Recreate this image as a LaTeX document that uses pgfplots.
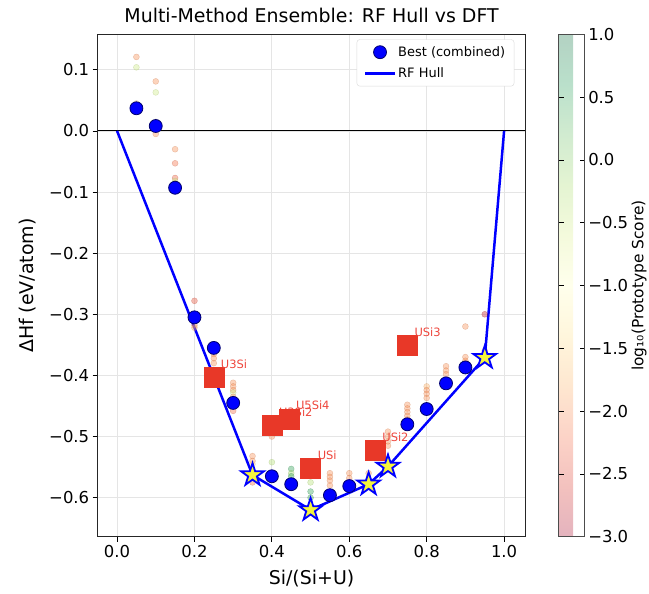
\documentclass[border=0pt]{standalone}
\usepackage{pgfplots}
\pgfplotsset{compat=1.18}
\usepackage{fontspec}
\setmainfont{DejaVu Sans}

\definecolor{dftred}{RGB}{232,56,40}
\definecolor{dftlabel}{RGB}{238,70,60}
\definecolor{staryellow}{RGB}{245,245,60}
\definecolor{bestedge}{RGB}{0,0,110}

% filled five-point star (matplotlib '*')
\pgfdeclareplotmark{fstar}{%
  \pgfpathmoveto{\pgfpointpolar{90}{\pgfplotmarksize}}%
  \pgfpathlineto{\pgfpointpolar{126}{0.382\pgfplotmarksize}}%
  \pgfpathlineto{\pgfpointpolar{162}{\pgfplotmarksize}}%
  \pgfpathlineto{\pgfpointpolar{198}{0.382\pgfplotmarksize}}%
  \pgfpathlineto{\pgfpointpolar{234}{\pgfplotmarksize}}%
  \pgfpathlineto{\pgfpointpolar{270}{0.382\pgfplotmarksize}}%
  \pgfpathlineto{\pgfpointpolar{306}{\pgfplotmarksize}}%
  \pgfpathlineto{\pgfpointpolar{342}{0.382\pgfplotmarksize}}%
  \pgfpathlineto{\pgfpointpolar{18}{\pgfplotmarksize}}%
  \pgfpathlineto{\pgfpointpolar{54}{0.382\pgfplotmarksize}}%
  \pgfpathclose
  \pgfusepathqfillstroke
}

\pgfplotsset{
  colormap={rdylgnpale}{rgb255=(228,179,190) rgb255=(243,193,190) rgb255=(252,211,199)
    rgb255=(254,231,208) rgb255=(255,246,220) rgb255=(255,255,236) rgb255=(244,250,220)
    rgb255=(228,244,210) rgb255=(209,235,208) rgb255=(186,224,203) rgb255=(179,210,195)},
  colormap={rdylgn}{rgb255=(165,0,38) rgb255=(215,48,39) rgb255=(244,109,67)
    rgb255=(253,174,97) rgb255=(254,224,139) rgb255=(255,255,191) rgb255=(217,239,139)
    rgb255=(166,217,106) rgb255=(102,189,99) rgb255=(26,152,80) rgb255=(0,104,55)},
}

% x, dHf, log10(prototype score)
\pgfplotstableread{
x y s
0.05 0.121 -2.0
0.05 0.104 -0.5
0.05 0.045 -1.5
0.10 0.081 -2.0
0.10 0.063 -0.5
0.10 0.015 -1.2
0.10 -0.005 -2.0
0.15 -0.030 -2.0
0.15 -0.053 -2.2
0.15 -0.077 -2.3
0.15 -0.082 -0.5
0.15 -0.086 -0.3
0.20 -0.278 -2.4
0.20 -0.318 -2.0
0.20 -0.322 -1.8
0.25 -0.365 -2.0
0.25 -0.372 -2.0
0.25 -0.380 -2.0
0.30 -0.412 -2.0
0.30 -0.418 -2.0
0.30 -0.424 -2.0
0.30 -0.428 -0.5
0.30 -0.435 -2.0
0.30 -0.458 -2.2
0.35 -0.532 -2.0
0.35 -0.540 -2.0
0.35 -0.545 -1.5
0.35 -0.575 -2.2
0.40 -0.500 -2.0
0.40 -0.542 -0.3
0.45 -0.553 0.5
0.45 -0.560 -0.2
0.45 -0.565 0.5
0.50 -0.575 -0.3
0.50 -0.590 0.5
0.50 -0.600 0.5
0.55 -0.560 -2.0
0.55 -0.566 -2.0
0.55 -0.572 -2.0
0.55 -0.580 -2.0
0.60 -0.560 -2.0
0.60 -0.568 -2.0
0.65 -0.560 -2.0
0.70 -0.492 -2.0
0.70 -0.500 -2.0
0.70 -0.508 -2.0
0.70 -0.515 -2.0
0.75 -0.448 -2.0
0.75 -0.454 -2.0
0.75 -0.460 -2.0
0.75 -0.466 -2.0
0.75 -0.472 -2.0
0.80 -0.418 -1.8
0.80 -0.424 -2.0
0.80 -0.430 -2.0
0.80 -0.437 -2.0
0.85 -0.385 -2.0
0.85 -0.392 -2.0
0.85 -0.398 -2.0
0.90 -0.320 -2.0
0.90 -0.370 -2.0
0.90 -0.376 -2.0
0.90 -0.380 -2.0
0.95 -0.300 -2.8
0.95 -0.360 -2.0
}\candidates

\begin{document}
\begin{tikzpicture}[trim left=-98pt, trim right=553pt]
\begin{axis}[
    scale only axis,
    width=429pt, height=504pt,
    xmin=-0.05, xmax=1.055,
    ymin=-0.664, ymax=0.158,
    xtick={0,0.2,0.4,0.6,0.8,1},
    xticklabels={0.0,0.2,0.4,0.6,0.8,1.0},
    ytick={-0.6,-0.5,-0.4,-0.3,-0.2,-0.1,0,0.1},
    yticklabels={−0.6,−0.5,−0.4,−0.3,−0.2,−0.1,0.0,0.1},
    xtick pos=bottom, ytick pos=left,
    tick align=outside,
    major tick length=5pt,
    tick style={black, line width=0.8pt},
    tick label style={font=\fontsize{16.5}{19}\selectfont},
    axis line style={black!85, line width=0.9pt},
    grid=major,
    grid style={gray!20, line width=0.8pt},
    title={Multi-Method Ensemble: RF Hull vs DFT},
    title style={font=\fontsize{19}{22}\selectfont, anchor=base, yshift=6pt, inner ysep=8pt},
    xlabel={Si/(Si+U)},
    xlabel shift=3pt,
    xlabel style={inner ysep=6pt},
    ylabel={ΔHf (eV/atom)},
    ylabel shift=6pt,
    label style={font=\fontsize{19}{22}\selectfont},
    colormap name=rdylgnpale,
    point meta min=-3, point meta max=1,
    colorbar,
    colorbar style={
        at={(parent axis.north east)}, anchor=north west, xshift=25pt,
        width=26pt,
        ytick={-3,-2.5,-2,-1.5,-1,-0.5,0,0.5,1},
        yticklabels={−3.0,−2.5,−2.0,−1.5,−1.0,−0.5,0.0,0.5,1.0},
        yticklabel style={font=\fontsize{16.5}{19}\selectfont},
        major tick length=5pt,
        tick style={black, line width=0.8pt},
        axis line style={black!70, line width=0.8pt},
        ylabel={log₁₀(Prototype Score)},
        ylabel style={font=\fontsize{15.5}{18}\selectfont, inner sep=0pt},
    },
    legend style={
        at={(0.974,0.990)}, anchor=north east,
        draw=black!15, rounded corners=3pt, fill=white,
        font=\fontsize{13}{15}\selectfont,
        row sep=6pt, inner xsep=7pt, inner ysep=5pt,
    },
    legend cell align=left,
    legend image code/.code={%
        \draw[mark repeat=2, mark phase=2] plot coordinates {(0pt,0pt) (15pt,0pt) (30pt,0pt)};},
]
% zero line
\addplot[black, line width=1pt, forget plot] coordinates {(-0.05,0) (1.055,0)};

% all candidate structures coloured by prototype score
\addplot[scatter, only marks, mark=*, mark size=3pt, colormap name=rdylgn,
    opacity=0.38, scatter src=explicit, forget plot]
    table[x=x, y=y, meta=s] {\candidates};

% best (combined)
\addplot[only marks, mark=*, mark size=6.5pt,
    mark options={fill=blue, draw=bestedge, line width=0.8pt}]
    coordinates {(0.05,0.037) (0.10,0.008) (0.15,-0.093) (0.20,-0.305) (0.25,-0.355)
    (0.30,-0.445) (0.40,-0.565) (0.45,-0.578) (0.55,-0.596) (0.60,-0.581)
    (0.75,-0.480) (0.80,-0.455) (0.85,-0.413) (0.90,-0.387)};
\addlegendentry{Best (combined)}

% RF hull
\addplot[blue, line width=2.5pt, legend image post style={line width=2.5pt}]
    coordinates {(0,0) (0.35,-0.563) (0.50,-0.620)
    (0.65,-0.578) (0.70,-0.549) (0.95,-0.371) (1,0)};
\addlegendentry{RF Hull}

% DFT reference phases
\pgfplotsset{dft/.style={only marks, mark=square*, mark size=10pt, color=dftred, forget plot,
    nodes near coords style={anchor=base west, inner sep=0pt, xshift=7pt, yshift=9pt,
    text=dftlabel, font=\fontsize{11.5}{13}\selectfont}}}
\addplot[dft, nodes near coords={U3Si}] coordinates {(0.25,-0.403)};
\addplot[dft, nodes near coords={U3Si2}] coordinates {(0.40,-0.482)};
\addplot[dft, nodes near coords={U5Si4}] coordinates {(0.444,-0.471)};
\addplot[dft, nodes near coords={USi}] coordinates {(0.50,-0.552)};
\addplot[dft, nodes near coords={USi2}] coordinates {(0.667,-0.523)};
\addplot[dft, nodes near coords={USi3}] coordinates {(0.75,-0.351)};

% hull vertices
\addplot[only marks, mark=fstar, mark size=12pt, forget plot,
    mark options={fill=staryellow, draw=blue, line width=1.8pt}]
    coordinates {(0.35,-0.563) (0.50,-0.620) (0.65,-0.578) (0.70,-0.549) (0.95,-0.371)};
\end{axis}
\end{tikzpicture}
\end{document}
